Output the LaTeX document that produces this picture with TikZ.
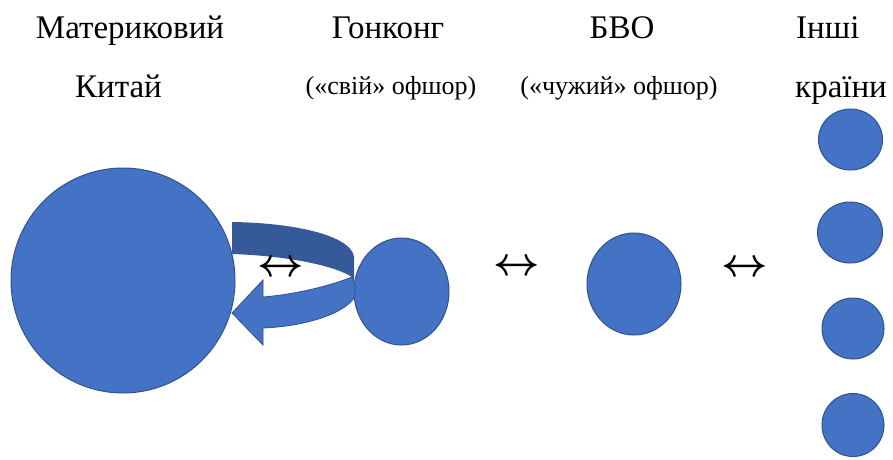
\documentclass[tikz,border=0pt]{standalone}
\usepackage{graphicx}
\usepackage{fontspec}
\setmainfont{Liberation Serif}
\definecolor{blob}{HTML}{4472C4}
\definecolor{blobline}{HTML}{2F528F}
\definecolor{bandback}{HTML}{36599A}
\newcommand{\lrarrowglyph}{\scalebox{1.62}{\fontsize{24.88}{28}\selectfont$\boldsymbol{\leftrightarrow}$}}
\usepackage{amsmath}
\begin{document}
\begin{tikzpicture}[x=1pt,y=-1pt,
  title/.style={anchor=base,inner sep=0pt,font=\fontsize{33}{36}\selectfont},
  sub/.style={anchor=base,inner sep=0pt,font=\fontsize{26}{30}\selectfont},
  arr/.style={anchor=center,inner sep=0pt},
  blobshape/.style={fill=blob,draw=blobline,line width=1pt}]
\useasboundingbox (0,0) rectangle (893,459);
% titles
\node[title] (t1) at (130,38) {Материковий};
\node[title] (t2) at (118.5,97) {Китай};
\node[title] (t3) at (388,38) {Гонконг};
\node[sub] (s3) at (391,94) {(«свій» офшор)};
\node[title] (t4) at (622,38) {БВО};
\node[sub] (s4) at (619,94) {(«чужий» офшор)};
\node[title,anchor=base west] (t5) at (796,38) {Інші};
\node[title,anchor=base west] (t6) at (795,97) {країни};
% blobs
\draw[blobshape] (123,280.5) ellipse [x radius=112, y radius=112.5];
\node[inner sep=0pt] (china) at (123,280.5) {};
\draw[blobshape] (401.5,291.5) ellipse [x radius=47.5, y radius=53.5];
\node[inner sep=0pt] (hk) at (401.5,291.5) {};
\draw[blobshape] (634,284) ellipse [x radius=47, y radius=51];
\node[inner sep=0pt] (bvo) at (634,284) {};
\draw[blobshape] (850.5,139.5) ellipse [x radius=32, y radius=30.5];
\draw[blobshape] (850,232.5) ellipse [x radius=32.5, y radius=30.5];
\draw[blobshape] (853,328.5) ellipse [x radius=31, y radius=30.5];
\draw[blobshape] (853,425) ellipse [x radius=31, y radius=31.5];
% curved arrow: back band
\fill[bandback] (232,222) .. controls (300,223) and (352,237) .. (354,257)
  -- (354,297) -- (352,277) .. controls (335,266) and (290,256) .. (232,254) -- cycle;
% curved arrow: front band with head
\draw[fill=blob,draw=blobline,line width=0.8pt,line join=miter]
  (352,277) .. controls (335,284) and (300,294) .. (263,297)
  -- (263,280) -- (232,313) -- (263,345) -- (263,328)
  .. controls (310,326) and (345,312) .. (354,298)
  .. controls (356,290) and (355,282) .. (352,277) -- cycle;
% double arrows
\node[arr] (a1) at (281,269) {\lrarrowglyph};
\node[arr] (a2) at (517,268) {\lrarrowglyph};
\node[arr] (a3) at (745,269) {\lrarrowglyph};
\end{tikzpicture}
\end{document}
